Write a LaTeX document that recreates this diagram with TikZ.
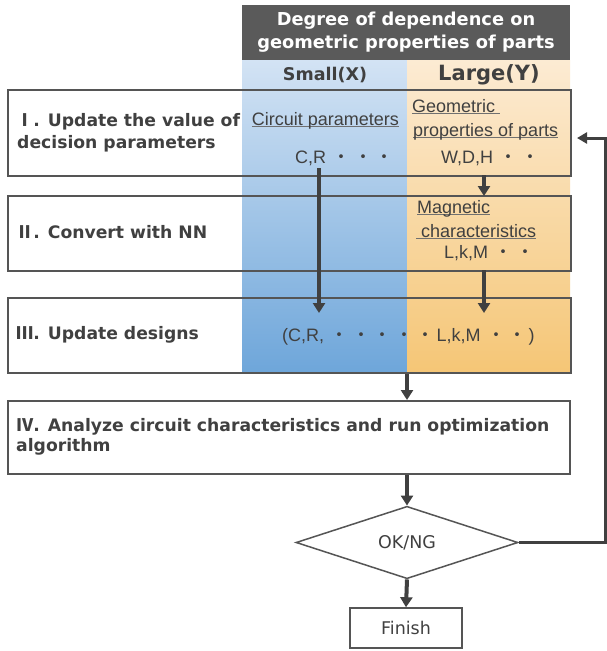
\documentclass[tikz,border=0pt]{standalone}
\usepackage{fontspec}
\setmainfont{Liberation Sans}
\newfontfamily\lab{DejaVu Sans}
\newfontfamily\cjk{Noto Sans CJK JP}
\usetikzlibrary{arrows.meta,shapes.geometric}
\definecolor{txt}{HTML}{404040}
\definecolor{hdr}{HTML}{5A5A5A}
\definecolor{edge}{HTML}{555555}
\definecolor{ulc}{HTML}{707070}
\definecolor{bluetop}{HTML}{D3E3F4}
\definecolor{bluebot}{HTML}{6EA6DA}
\definecolor{orgtop}{HTML}{FCEBD3}
\definecolor{orgbot}{HTML}{F5C676}
\newcommand{\md}{\makebox[21.5pt]{\cjk ・}}
\newcommand{\rn}[1]{{\cjk\bfseries #1}}
\newsavebox{\ulbox}
\newcommand{\ulx}[1]{\sbox\ulbox{#1}\rlap{\textcolor{ulc}{\rule[-2pt]{\wd\ulbox}{0.9pt}}}\usebox\ulbox}
\begin{document}
\begin{tikzpicture}[x=1pt,y=-1pt,
  box/.style={draw=edge, line width=1.5pt, inner sep=0, anchor=north west},
  lbl/.style={font=\lab\bfseries\fontsize{17.2}{23}\selectfont, text=txt, anchor=base west, inner sep=0},
  inn/.style={font=\fontsize{18}{22}\selectfont, text=txt, inner sep=0, anchor=base west},
  arr/.style={draw=txt, line width=4pt, -{Triangle[length=10pt,width=12pt]}},
  arrf/.style={draw=txt, line width=3pt, -{Triangle[length=10pt,width=11pt]}}]
\useasboundingbox (0,0) rectangle (606,651);
\fill[white] (0,0) rectangle (606,651);
% header
\node[fill=hdr, minimum width=328, minimum height=55, anchor=north west, inner sep=0] (hdr) at (242,5) {};
\node[font=\lab\bfseries\fontsize{17.8}{23}\selectfont, text=white, align=center, inner sep=0] (hdrt) at (406,32) {Degree of dependence on\\geometric properties of parts};
% columns
\shade[top color=bluetop, bottom color=bluebot] (242,60) rectangle (407,372);
\shade[top color=orgtop, bottom color=orgbot] (407,60) rectangle (570,372);
\node[font=\lab\bfseries\fontsize{17.5}{20}\selectfont, text=txt, inner sep=0] (small) at (325,75) {Small(X)};
\node[font=\lab\bfseries\fontsize{21}{24}\selectfont, text=txt, inner sep=0] (large) at (489,75) {Large(Y)};
% boxes
\node[box, minimum width=563, minimum height=86] (b1) at (7,89) {};
\node[box, minimum width=563, minimum height=75] (b2) at (7,195) {};
\node[box, minimum width=563, minimum height=75] (b3) at (7,297) {};
\node[box, minimum width=562, minimum height=73] (b4) at (7,400) {};
% labels
\node[lbl] (l1a) at (16,126) {\rn{Ⅰ}. Update the value of};
\node[lbl] (l1b) at (17,148) {decision parameters};
\node[lbl] (l2) at (16,238) {\rn{Ⅱ}. Convert with NN};
\node[lbl] (l3) at (16,339) {\rn{Ⅲ}. Update designs};
\node[lbl] (l4a) at (16,431) {\rn{Ⅳ}. Analyze circuit characteristics and run optimization};
\node[lbl] (l4b) at (16,451) {algorithm};
% inner texts
\node[inn, anchor=base] (cp) at (325.5,125) {\ulx{Circuit parameters}};
\node[inn] (cr) at (295,163) {C,R \md\md\md};
\node[inn] (geo1) at (412,112) {\ulx{Geometric\ }};
\node[inn] (geo2) at (413,136) {\ulx{properties of parts}};
\node[inn] (wdh) at (441,163) {W,D,H \md\md};
\node[inn] (mag1) at (417,213) {\ulx{Magnetic}};
\node[inn] (mag2) at (416,237) {\ulx{\ characteristics}};
\node[inn] (lkm) at (444,258) {L,k,M \md\md};
\node[inn] (des) at (282,341) {(C,R, \md\md\md\md\md L,k,M \md\md)};
% decision and finish
\node[shape=diamond, draw=edge, line width=1.5pt, minimum width=222, minimum height=65, inner sep=0, font=\lab\fontsize{17.5}{20}\selectfont, text=txt] (dia) at (407,542.5) {OK/NG};
\node[draw=edge, line width=1.5pt, minimum width=112, minimum height=40, inner sep=0, font=\lab\fontsize{17.5}{20}\selectfont, text=txt] (fin) at (406,628) {Finish};
% connector points
\coordinate (crs) at (319,168);
\coordinate (cre) at (319,313);
\coordinate (ws) at (484,175);
\coordinate (we) at (484,196);
\coordinate (ls) at (484,270);
\coordinate (le) at (484,313);
\coordinate (fbc) at (605,138);
\coordinate (fbe) at (577,138);
% arrows
\draw[arr] (crs) -- (cre);
\draw[arr] (ws) -- (we);
\draw[arr] (ls) -- (le);
\draw[arr] (b3.south -| dia.north) -- (b4.north -| dia.north);
\draw[arr] (b4.south -| dia.north) -- (dia.north);
\draw[arr] (dia.south) -- (fin.north);
\draw[arrf] (dia.east) -| (fbc) -- (fbe);
\end{tikzpicture}
\end{document}
